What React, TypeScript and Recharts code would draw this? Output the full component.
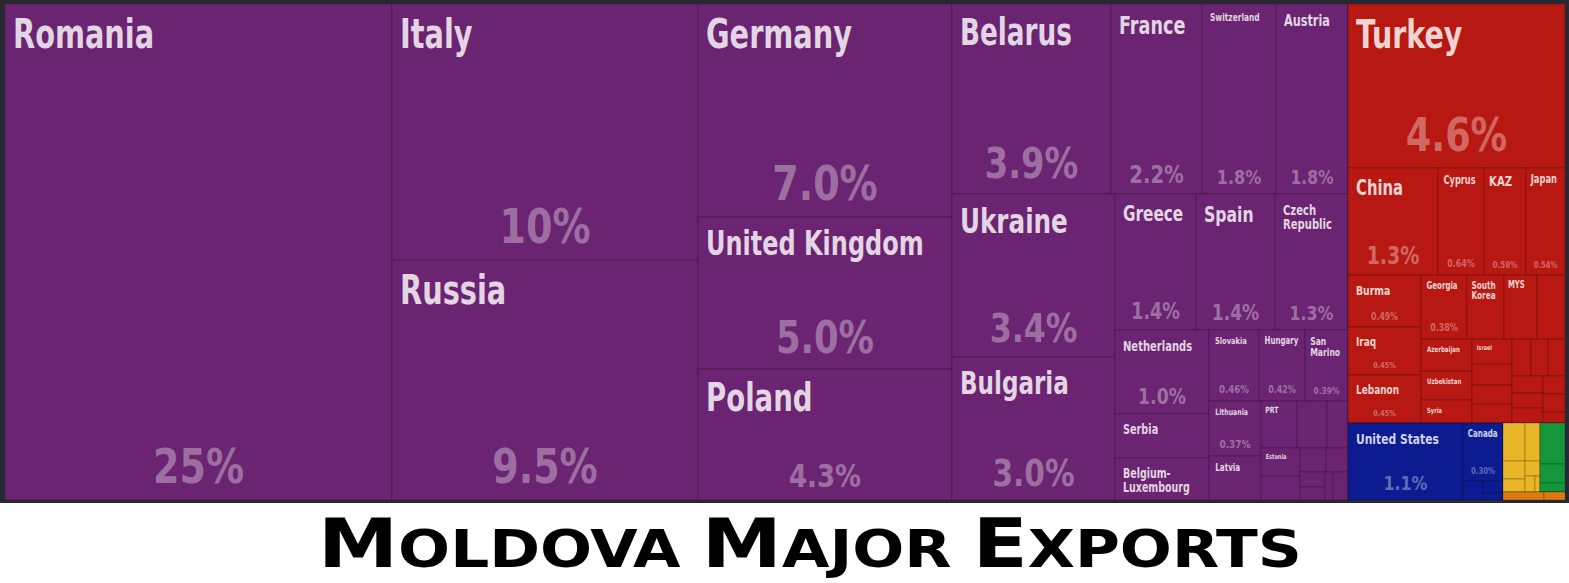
import { Treemap } from 'recharts'

// Shares of total exports (%).
// Recharts sorts siblings by value before squarifying.
const groupNames = ['Europe', 'Asia', 'North America', 'Africa', 'South America', 'Oceania']
const groupColors = ['#6b2471', '#b81812', '#0c1b90', '#e8b626', '#15963d', '#dc7a10']

const europeNames = [
  'Romania', 'Italy', 'Russia', 'Germany', 'United Kingdom', 'Poland', 'Belarus', 'France',
  'Switzerland', 'Austria', 'Ukraine', 'Bulgaria', 'Greece', 'Spain', 'Czech Republic',
  'Netherlands', 'Serbia', 'Belgium-Luxembourg', 'Slovakia', 'Hungary', 'San Marino',
  'Lithuania', 'Latvia', 'PRT', 'Slovenia', 'Denmark', 'Estonia', 'Sweden', 'Ireland',
  'Norway', 'Croatia', 'Finland', 'Montenegro', 'Albania',
]
const europeShares = [
  24.8, 10.1, 9.5, 7.0, 5.0, 4.3, 3.9, 2.24, 1.82, 1.75, 3.44, 3.0, 1.42, 1.38, 1.3,
  1.02, 0.53, 0.51, 0.46, 0.42, 0.39, 0.37, 0.3, 0.22, 0.18, 0.13, 0.14, 0.12, 0.08,
  0.07, 0.05, 0.04, 0.03, 0.02,
]

const asiaNames = [
  'Turkey', 'China', 'Cyprus', 'KAZ', 'Japan', 'Burma', 'Iraq', 'Lebanon', 'Georgia',
  'South Korea', 'MYS', 'Kyrgyzstan', 'Azerbaijan', 'Uzbekistan', 'Syria', 'Israel',
  'Saudi Arabia', 'Mongolia', 'Turkmenistan', 'Indonesia', 'Tajikistan', 'Armenia',
  'United Arab Emirates', 'Jordan', 'Singapore', 'Thailand', 'Vietnam', 'Hong Kong',
]
const asiaShares = [
  4.6, 1.25, 0.64, 0.58, 0.54, 0.49, 0.45, 0.45, 0.38, 0.31, 0.27, 0.23, 0.21, 0.19,
  0.15, 0.13, 0.11, 0.1, 0.09, 0.09, 0.08, 0.08, 0.07, 0.06, 0.06, 0.05, 0.05, 0.04,
]

const northAmericaNames = ['United States', 'Canada', 'Mexico', 'Panama', 'Dominican Republic']
const northAmericaShares = [1.14, 0.3, 0.05, 0.03, 0.02]

const africaNames = ['Egypt', 'Morocco', 'Nigeria', 'Algeria', 'South Africa', 'Tunisia', 'Ethiopia']
const africaShares = [0.11, 0.07, 0.05, 0.04, 0.03, 0.02, 0.01]

const southAmericaNames = ['Brazil', 'Argentina', 'Colombia']
const southAmericaShares = [0.13, 0.06, 0.03]

const oceaniaNames = ['Australia', 'New Zealand']
const oceaniaShares = [0.04, 0.02]

const groupMembers = [
  [europeNames, europeShares],
  [asiaNames, asiaShares],
  [northAmericaNames, northAmericaShares],
  [africaNames, africaShares],
  [southAmericaNames, southAmericaShares],
  [oceaniaNames, oceaniaShares],
] as const

const treeData = groupNames.map((group, g) => ({
  name: group,
  color: groupColors[g],
  children: groupMembers[g][0].map((name, i) => ({
    name,
    value: groupMembers[g][1][i],
    color: groupColors[g],
  })),
}))

// no condensed face installed, so squeeze DejaVu horizontally
const FONT = "'DejaVu Sans Condensed', 'DejaVu Sans', sans-serif"
const NAME_SQ = 0.8
const PCT_SQ = 0.88
const CHAR_W = 0.51
const NAME_MAX = 40
const PCT_MAX = 48

const splitName = (name: string) => {
  const dash = name.indexOf('-')
  if (dash > 0) return [name.slice(0, dash + 1), name.slice(dash + 1)]
  const sp = name.indexOf(' ')
  return sp > 0 ? [name.slice(0, sp), name.slice(sp + 1)] : [name]
}

// eslint-disable-next-line @typescript-eslint/no-explicit-any
function CountryCell(props: any) {
  const { x, y, width: w, height: h, depth, name, value, color } = props
  if (!depth) return null
  if (depth === 1) {
    return <rect x={x} y={y} width={w} height={h} fill={color} stroke="rgba(0,0,0,0.35)" strokeWidth={1} />
  }

  const side = Math.sqrt(w * h)
  const pad = Math.min(8, w * 0.12)
  let lines = [name as string]
  let fs = Math.min(NAME_MAX, 0.21 * side, (w - 2 * pad) / (name.length * CHAR_W))
  if (fs < 12) {
    const parts = splitName(name)
    if (parts.length > 1) {
      const longest = Math.max(...parts.map((p) => p.length))
      const fs2 = Math.min(NAME_MAX, 0.21 * side, (w - 2 * pad) / (longest * CHAR_W))
      if (fs2 > fs * 1.3) {
        lines = parts
        fs = fs2
      }
    }
  }
  const showName = fs >= 6.5 && lines.length * fs * 1.1 < h - 2

  const label = `${Number(value).toPrecision(2)}%`
  const nameBlock = showName ? pad + lines.length * fs * 1.1 : 0
  const pf = Math.min(PCT_MAX, 0.245 * side, (0.7 * w) / (label.length * 0.64), 0.45 * (h - nameBlock - 8))
  const showPct = h >= 48 && w >= 39 && pf >= 7

  return (
    <g>
      <rect x={x} y={y} width={w} height={h} fill={color} stroke="rgba(0,0,0,0.22)" strokeWidth={1} />
      {showName && (
        <text
          transform={`translate(${x + pad} ${y + pad + fs * 0.9}) scale(${NAME_SQ} 1)`}
          fontSize={fs}
          fontFamily={FONT}
          fontWeight={700}
          fill="#fff"
          fillOpacity={0.82}
        >
          {lines.map((line, i) => (
            <tspan key={i} x={0} dy={i === 0 ? 0 : fs * 1.05}>{line}</tspan>
          ))}
        </text>
      )}
      {showPct && (
        <text
          transform={`translate(${x + w / 2} ${y + h - (0.25 * pf + 5)}) scale(${PCT_SQ} 1)`}
          fontSize={pf}
          fontFamily={FONT}
          fontWeight={700}
          textAnchor="middle"
          fill="#fff"
          fillOpacity={0.36}
        >
          {label}
        </text>
      )}
    </g>
  )
}

const TITLE = 'Moldova Major Exports'

export default function App() {
  const words = TITLE.split(' ')
  return (
    <div style={{ position: 'absolute', left: 0, top: 0, width: 1569, height: 583, background: '#fff' }}>
      <div style={{ width: 1569, height: 503, background: '#282833', boxSizing: 'border-box', padding: '4px 4px 3px 5px' }}>
        <Treemap
          width={1560}
          height={496}
          data={treeData}
          dataKey="value"
          nameKey="name"
          aspectRatio={1.51}
          isAnimationActive={false}
          content={(p: any) => <CountryCell {...p} />}
        />
      </div>
      <svg width={1569} height={80} style={{ display: 'block' }}>
        <text
          x={318}
          y={64}
          textLength={984}
          lengthAdjust="spacingAndGlyphs"
          fontFamily="'DejaVu Sans Condensed', 'DejaVu Sans', sans-serif"
          fontWeight={900}
          fill="#000"
        >
          {words.map((wd, i) => (
            <tspan key={i}>
              <tspan fontSize={67}>{wd[0]}</tspan>
              <tspan fontSize={51}>{wd.slice(1).toUpperCase()}</tspan>
              {i < words.length - 1 ? <tspan fontSize={51}>{' '}</tspan> : null}
            </tspan>
          ))}
        </text>
      </svg>
    </div>
  )
}
